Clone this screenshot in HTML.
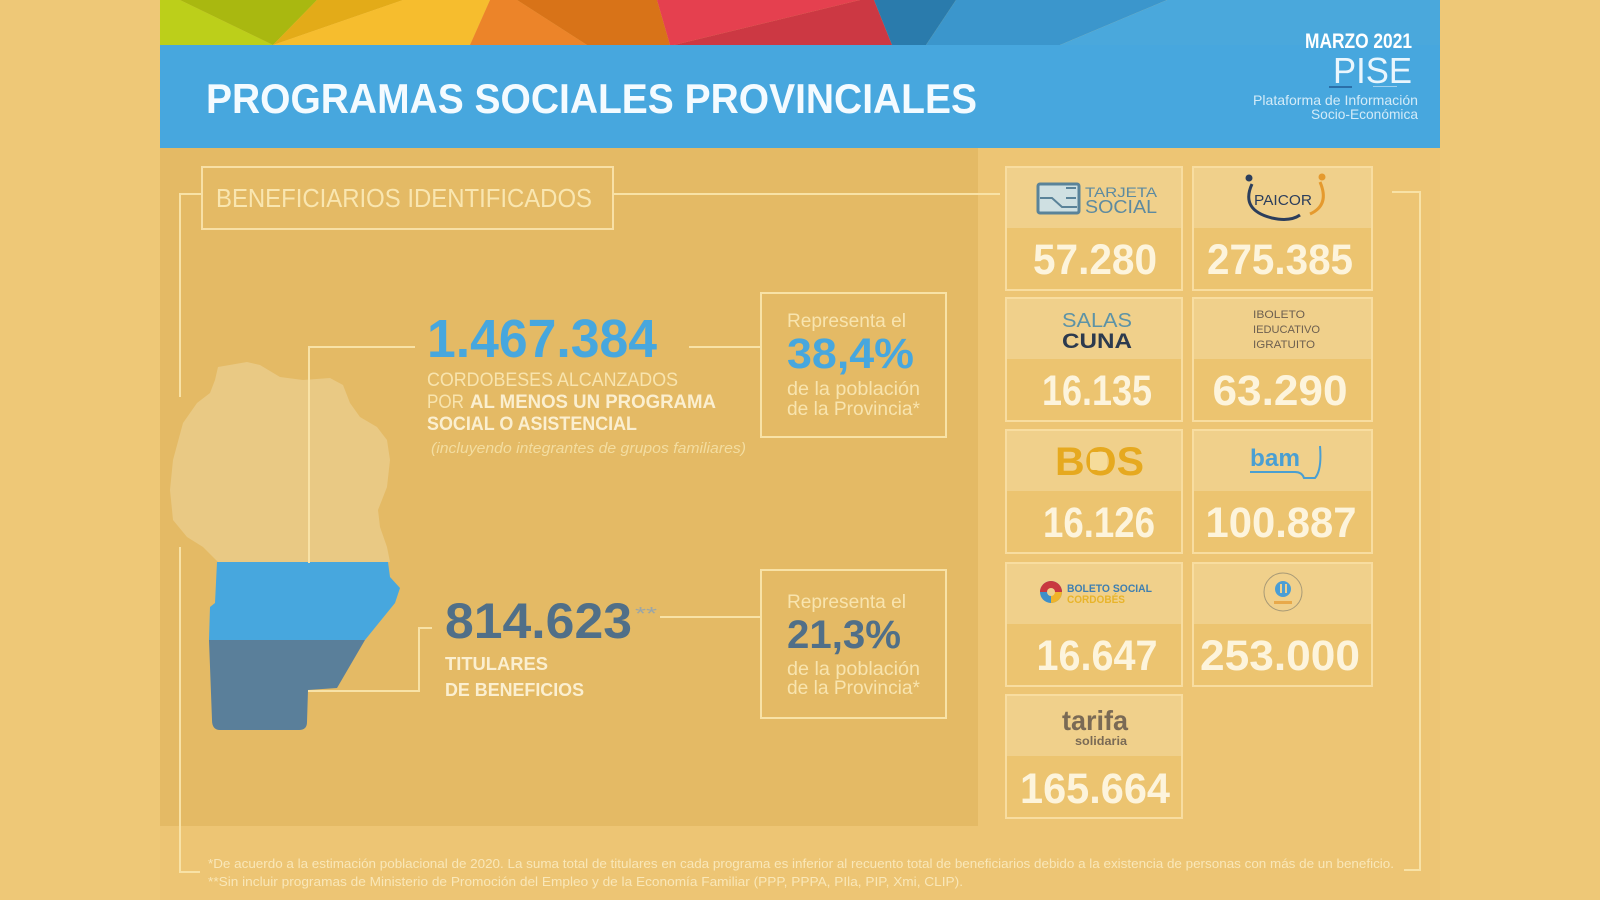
<!DOCTYPE html>
<html><head><meta charset="utf-8"><style>
html,body{margin:0;padding:0;background:#eec877;}
svg{display:block;}
text{font-family:"Liberation Sans",Arial,sans-serif;}
</style></head><body>
<svg width="1600" height="900" viewBox="0 0 1600 900" xmlns="http://www.w3.org/2000/svg">
<rect x="0" y="0" width="1600" height="900" fill="#eec877"/>
<!-- panel -->
<rect x="160" y="148" width="1280" height="752" fill="#edc574"/>
<rect x="160" y="148" width="818" height="678" fill="#e4ba65"/>
<!-- band -->
<polygon points="160,0 180,0 273,45 160,45" fill="#bccf1a"/>
<polygon points="180,0 317,0 273,45" fill="#a9b810"/>
<polygon points="317,0 403,0 273,45" fill="#e3ab18"/>
<polygon points="403,0 490,0 470,45 273,45" fill="#f6bd2e"/>
<polygon points="490,0 517,0 587,45 470,45" fill="#ec8429"/>
<polygon points="517,0 657,0 670,45 587,45" fill="#d87318"/>
<polygon points="657,0 860,0 674,45 670,45" fill="#e5404f"/>
<polygon points="860,0 874,0 892,45 674,45" fill="#cc3843"/>
<polygon points="874,0 956,0 926,45 892,45" fill="#2a7bac"/>
<polygon points="956,0 1167,0 1060,45 926,45" fill="#3b96cc"/>
<polygon points="1167,0 1440,0 1440,45 1060,45" fill="#4aa8dc"/>
<!-- blue bar -->
<rect x="160" y="45" width="1280" height="103" fill="#47a7de"/>
<text x="206" y="113" font-size="42" font-weight="bold" fill="#f4fbff" textLength="771" lengthAdjust="spacingAndGlyphs">PROGRAMAS SOCIALES PROVINCIALES</text>
<text x="1305" y="48" font-size="21" font-weight="bold" fill="#ffffff" textLength="107" lengthAdjust="spacingAndGlyphs">MARZO 2021</text>
<text x="1333" y="83" font-size="36" fill="#eaf6fd" textLength="79" lengthAdjust="spacingAndGlyphs">PISE</text>
<rect x="1329" y="86" width="23" height="2" fill="#2b6fa8"/>
<rect x="1373" y="86" width="24" height="1" fill="#9fd0ee"/>
<text x="1253" y="105" font-size="14" fill="#d3ebf8" textLength="165" lengthAdjust="spacingAndGlyphs">Plataforma de Información</text>
<text x="1311" y="119" font-size="14" fill="#d3ebf8" textLength="107" lengthAdjust="spacingAndGlyphs">Socio-Económica</text>

<!-- beneficiarios box -->
<rect x="202" y="167" width="411" height="62" fill="none" stroke="#f8e0a5" stroke-width="2"/>
<text x="216" y="207" font-size="26" fill="#f9e6b0" textLength="376" lengthAdjust="spacingAndGlyphs">BENEFICIARIOS IDENTIFICADOS</text>

<g stroke="#f8e2a6" stroke-width="2" fill="none">
<line x1="613" y1="194" x2="1000" y2="194"/>
<polyline points="201,194 180,194 180,397"/>
<polyline points="180,547 180,872 200,872"/>
<polyline points="1392,192 1420,192 1420,870 1404,870"/>
</g>

<!-- map -->
<path d="M218,367 L247,362 L260,365 L280,377 L303,380 L330,378 L343,385 L350,403 L360,417 L377,427 L387,440 L390,460 L387,487 L378,510 L380,527 L387,547 L390,562 L218,562 L203,547 L187,537 L173,520 L170,490 L173,460 L183,423 L197,403 L210,393 L215,380 Z" fill="#e9c984"/>
<path d="M217,562 L388,562 L390,577 L400,588 L395,603 L365,640 L209,640 L210,607 L215,603 Z" fill="#47a7de"/>
<path d="M209,640 L365,640 L337,688 L308,690 L307,722 Q307,730 299,730 L220,730 Q212,730 212,720 Z" fill="#5a7f9a"/>

<g stroke="#f8e2a6" stroke-width="2" fill="none">
<polyline points="309,563 309,347 415,347"/>
<polyline points="308,691 419,691 419,628 432,628"/>
<line x1="689" y1="347" x2="761" y2="347"/>
<line x1="660" y1="617" x2="761" y2="617"/>
<rect x="761" y="293" width="185" height="144"/>
<rect x="761" y="570" width="185" height="148"/>
</g>

<text x="427" y="357" font-size="54" font-weight="bold" fill="#47a7de" textLength="230" lengthAdjust="spacingAndGlyphs">1.467.384</text>
<text x="427" y="386" font-size="19" fill="#f8e4ae" textLength="251" lengthAdjust="spacingAndGlyphs">CORDOBESES ALCANZADOS</text>
<text x="427" y="408" font-size="19" fill="#f8e4ae" textLength="37" lengthAdjust="spacingAndGlyphs">POR</text>
<text x="470" y="408" font-size="19" font-weight="bold" fill="#fbefd0" textLength="246" lengthAdjust="spacingAndGlyphs">AL MENOS UN PROGRAMA</text>
<text x="427" y="430" font-size="19" font-weight="bold" fill="#fbefd0" textLength="210" lengthAdjust="spacingAndGlyphs">SOCIAL O ASISTENCIAL</text>
<text x="431" y="453" font-size="15" font-style="italic" fill="#f3dda0" textLength="315" lengthAdjust="spacingAndGlyphs">(incluyendo integrantes de grupos familiares)</text>

<text x="787" y="327" font-size="19" fill="#f8e4ae" textLength="119" lengthAdjust="spacingAndGlyphs">Representa el</text>
<text x="787" y="368" font-size="43" font-weight="bold" fill="#47a7de" textLength="127" lengthAdjust="spacingAndGlyphs">38,4%</text>
<text x="787" y="395" font-size="19" fill="#f8e4ae" textLength="133" lengthAdjust="spacingAndGlyphs">de la población</text>
<text x="787" y="415" font-size="19" fill="#f8e4ae" textLength="133" lengthAdjust="spacingAndGlyphs">de la Provincia*</text>

<text x="445" y="638" font-size="50" font-weight="bold" fill="#506f88" textLength="187" lengthAdjust="spacingAndGlyphs">814.623</text>
<text x="635" y="620" font-size="18" fill="#9aa6a8" textLength="22" lengthAdjust="spacingAndGlyphs">**</text>
<text x="445" y="670" font-size="18" font-weight="bold" fill="#fbefd0" textLength="103" lengthAdjust="spacingAndGlyphs">TITULARES</text>
<text x="445" y="696" font-size="18" font-weight="bold" fill="#fbefd0" textLength="139" lengthAdjust="spacingAndGlyphs">DE BENEFICIOS</text>

<text x="787" y="608" font-size="19" fill="#f8e4ae" textLength="119" lengthAdjust="spacingAndGlyphs">Representa el</text>
<text x="787" y="648" font-size="40" font-weight="bold" fill="#506f88" textLength="114" lengthAdjust="spacingAndGlyphs">21,3%</text>
<text x="787" y="675" font-size="19" fill="#f8e4ae" textLength="133" lengthAdjust="spacingAndGlyphs">de la población</text>
<text x="787" y="694" font-size="19" fill="#f8e4ae" textLength="133" lengthAdjust="spacingAndGlyphs">de la Provincia*</text>

<!-- cards -->
<g>
<rect x="1006" y="167" width="176" height="61" fill="#f0d08b"/><rect x="1006" y="228" width="176" height="62" fill="#ecc470"/>
<rect x="1193" y="167" width="179" height="61" fill="#f0d08b"/><rect x="1193" y="228" width="179" height="62" fill="#ecc470"/>
<rect x="1006" y="298" width="176" height="61" fill="#f0d08b"/><rect x="1006" y="359" width="176" height="62" fill="#ecc470"/>
<rect x="1193" y="298" width="179" height="61" fill="#f0d08b"/><rect x="1193" y="359" width="179" height="62" fill="#ecc470"/>
<rect x="1006" y="430" width="176" height="61" fill="#f0d08b"/><rect x="1006" y="491" width="176" height="62" fill="#ecc470"/>
<rect x="1193" y="430" width="179" height="61" fill="#f0d08b"/><rect x="1193" y="491" width="179" height="62" fill="#ecc470"/>
<rect x="1006" y="563" width="176" height="61" fill="#f0d08b"/><rect x="1006" y="624" width="176" height="62" fill="#ecc470"/>
<rect x="1193" y="563" width="179" height="61" fill="#f0d08b"/><rect x="1193" y="624" width="179" height="62" fill="#ecc470"/>
<rect x="1006" y="695" width="176" height="61" fill="#f0d08b"/><rect x="1006" y="756" width="176" height="62" fill="#ecc470"/>
</g>
<g fill="none" stroke="#f8dda0" stroke-width="2">
<rect x="1006" y="167" width="176" height="123"/><rect x="1193" y="167" width="179" height="123"/>
<rect x="1006" y="298" width="176" height="123"/><rect x="1193" y="298" width="179" height="123"/>
<rect x="1006" y="430" width="176" height="123"/><rect x="1193" y="430" width="179" height="123"/>
<rect x="1006" y="563" width="176" height="123"/><rect x="1193" y="563" width="179" height="123"/>
<rect x="1006" y="695" width="176" height="123"/>
</g>
<g font-size="43" font-weight="bold" fill="#fdf4dc" text-anchor="middle">
<text x="1095" y="274" textLength="124" lengthAdjust="spacingAndGlyphs">57.280</text>
<text x="1280" y="274" textLength="146" lengthAdjust="spacingAndGlyphs">275.385</text>
<text x="1097" y="405" textLength="110" lengthAdjust="spacingAndGlyphs">16.135</text>
<text x="1280" y="405" textLength="135" lengthAdjust="spacingAndGlyphs">63.290</text>
<text x="1099" y="537" textLength="112" lengthAdjust="spacingAndGlyphs">16.126</text>
<text x="1281" y="537" textLength="151" lengthAdjust="spacingAndGlyphs">100.887</text>
<text x="1097" y="670" textLength="121" lengthAdjust="spacingAndGlyphs">16.647</text>
<text x="1280" y="670" textLength="160" lengthAdjust="spacingAndGlyphs">253.000</text>
<text x="1095" y="803" textLength="150" lengthAdjust="spacingAndGlyphs">165.664</text>
</g>

<!-- logos -->
<g>
<rect x="1038" y="184" width="41" height="29" rx="2" fill="#cfe0e2" stroke="#5a8399" stroke-width="3"/>
<path d="M1040,198 L1052,198 L1062,207 L1077,207" fill="none" stroke="#5a8399" stroke-width="2"/>
<path d="M1066,188 L1076,188 M1066,198 L1076,198" stroke="#5a8399" stroke-width="2"/>
<text x="1085" y="197" font-size="14" fill="#5d8aa0" textLength="72" lengthAdjust="spacingAndGlyphs">TARJETA</text>
<text x="1085" y="213" font-size="18" fill="#5d8aa0" textLength="72" lengthAdjust="spacingAndGlyphs">SOCIAL</text>

<path d="M1252,184 Q1240,210 1272,218 Q1290,222 1300,215" fill="none" stroke="#2c3e5c" stroke-width="3"/>
<path d="M1320,182 Q1330,205 1310,214" fill="none" stroke="#e59a2e" stroke-width="3"/>
<circle cx="1249" cy="178" r="3.5" fill="#2c3e5c"/>
<circle cx="1322" cy="177" r="3.5" fill="#e59a2e"/>
<text x="1254" y="205" font-size="15" fill="#2c3e5c" textLength="58" lengthAdjust="spacingAndGlyphs">PAICOR</text>

<text x="1062" y="327" font-size="20" fill="#5d93a6" textLength="70" lengthAdjust="spacingAndGlyphs">SALAS</text>
<text x="1062" y="348" font-size="21" font-weight="bold" fill="#2c3a4e" textLength="70" lengthAdjust="spacingAndGlyphs">CUNA</text>

<text x="1253" y="318" font-size="11" fill="#6e6050" textLength="52" lengthAdjust="spacingAndGlyphs">IBOLETO</text>
<text x="1253" y="333" font-size="11" fill="#6e6050" textLength="67" lengthAdjust="spacingAndGlyphs">IEDUCATIVO</text>
<text x="1253" y="348" font-size="11" fill="#6e6050" textLength="62" lengthAdjust="spacingAndGlyphs">IGRATUITO</text>

<text x="1055" y="475" font-size="40" font-weight="bold" fill="#e6a91f" textLength="89" lengthAdjust="spacingAndGlyphs">BOS</text>
<rect x="1090" y="452" width="17" height="18" rx="3" fill="#f6dc9a"/>

<text x="1250" y="466" font-size="24" font-weight="bold" fill="#4a9fd2" textLength="50" lengthAdjust="spacingAndGlyphs">bam</text>
<path d="M1250,472 L1295,472 Q1302,472 1304,478 L1315,478 Q1322,470 1320,446" fill="none" stroke="#4a9fd2" stroke-width="2"/>

<circle cx="1051" cy="592" r="11" fill="#3f8fc8"/>
<path d="M1040,592 A11,11 0 0 1 1062,592 Z" fill="#c9383f"/>
<path d="M1051,592 L1062,592 A11,11 0 0 1 1051,603 Z" fill="#f0b429"/>
<circle cx="1051" cy="592" r="4" fill="#f0d08b"/>
<text x="1067" y="592" font-size="11" font-weight="bold" fill="#3f7fb0" textLength="85" lengthAdjust="spacingAndGlyphs">BOLETO SOCIAL</text>
<text x="1067" y="603" font-size="11" font-weight="bold" fill="#e8b42a" textLength="58" lengthAdjust="spacingAndGlyphs">CORDOBÉS</text>

<circle cx="1283" cy="592" r="19" fill="none" stroke="#a89a76" stroke-width="1"/>
<circle cx="1283" cy="589" r="8" fill="#4a9ed5"/>
<rect x="1280" y="584" width="2" height="9" fill="#f0d08b"/><rect x="1285" y="584" width="2" height="9" fill="#f0d08b"/>
<rect x="1274" y="601" width="18" height="3" fill="#e8a94a"/>

<text x="1062" y="730" font-size="28" font-weight="bold" fill="#7a6a55" textLength="66" lengthAdjust="spacingAndGlyphs">tarifa</text>
<text x="1075" y="745" font-size="12" font-weight="bold" fill="#7a6a55" textLength="52" lengthAdjust="spacingAndGlyphs">solidaria</text>
</g>

<!-- footnotes -->
<text x="208" y="868" font-size="13" fill="#f9e7b8" textLength="1186" lengthAdjust="spacingAndGlyphs">*De acuerdo a la estimación poblacional de 2020. La suma total de titulares en cada programa es inferior al recuento total de beneficiarios debido a la existencia de personas con más de un beneficio.</text>
<text x="208" y="886" font-size="13" fill="#f9e7b8" textLength="755" lengthAdjust="spacingAndGlyphs">**Sin incluir programas de Ministerio de Promoción del Empleo y de la Economía Familiar (PPP, PPPA, PIla, PIP, Xmi, CLIP).</text>
</svg>
</body></html>
